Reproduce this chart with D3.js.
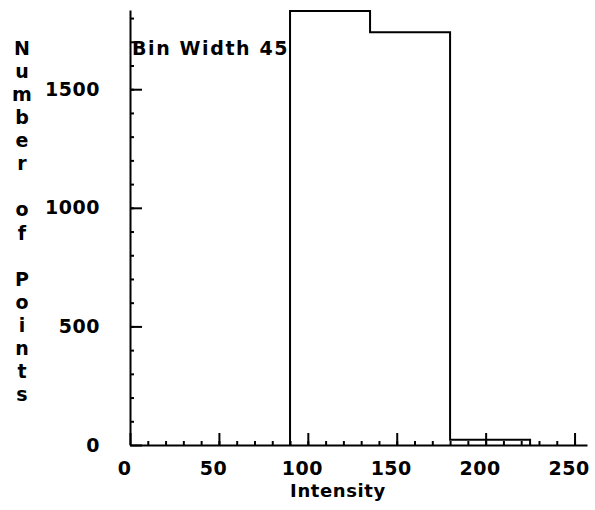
<!DOCTYPE html>
<html>
<head>
<meta charset="utf-8">
<script src="https://cdn.jsdelivr.net/npm/d3@7"></script>
<style>
  body { margin: 0; background: #fff; }
  svg text { font-family: "DejaVu Sans", sans-serif; font-weight: bold; fill: #000; }
</style>
</head>
<body>
<div id="chart"></div>
<script>
// histogram, bin width 45
var binEdges = [90, 135, 180, 225];
var binCounts = [1830, 1740, 22];
var xTicks = [0, 50, 100, 150, 200, 250];
var yTicks = [0, 500, 1000, 1500];
var xTitle = "Intensity";
var yTitle = "Number of Points";
var note = "Bin Width 45";

var width = 595, height = 510;
var margin = {top: 10, right: 8, bottom: 65, left: 130};

var svg = d3.select("#chart")
    .append("svg")
    .attr("width", width)
    .attr("height", height);

var x = d3.scaleLinear()
    .domain([0, 257])
    .range([margin.left, width - margin.right]);

var y = d3.scaleLinear()
    .domain([0, 1834])
    .range([height - margin.bottom, margin.top]);

var fontSize = 19;

// minor ticks
svg.append("g")
    .attr("transform", "translate(0," + y(0) + ")")
    .call(d3.axisBottom(x).tickValues(d3.range(10, 251, 10)).tickSize(-4).tickFormat(""))
    .call(function(g) { g.select(".domain").remove(); });
svg.append("g")
    .attr("transform", "translate(" + x(0) + ",0)")
    .call(d3.axisLeft(y).tickValues(d3.range(100, 1801, 100)).tickSize(-4).tickFormat(""))
    .call(function(g) { g.select(".domain").remove(); });

// major axes
var xAxis = svg.append("g")
    .attr("transform", "translate(0," + y(0) + ")")
    .call(d3.axisBottom(x).tickValues(xTicks).tickSizeInner(-12).tickSizeOuter(0).tickPadding(17).tickFormat(d3.format("d")));
xAxis.selectAll("text").attr("dx", -6).attr("letter-spacing", 0.5);

var yAxis = svg.append("g")
    .attr("transform", "translate(" + x(0) + ",0)")
    .call(d3.axisLeft(y).tickValues(yTicks).tickSizeInner(-12).tickSizeOuter(0).tickPadding(30).tickFormat(d3.format("d")));
yAxis.selectAll("text").attr("letter-spacing", 0.5);

svg.selectAll(".tick line").attr("stroke", "#000").attr("stroke-width", 2);
svg.selectAll(".domain").attr("stroke", "#000").attr("stroke-width", 2);
svg.selectAll(".tick text")
    .attr("font-size", fontSize)
    .style("font-family", "DejaVu Sans, sans-serif")
    .style("font-weight", "bold");

// histogram outline
var pts = [[binEdges[0], 0]];
binCounts.forEach(function(c, i) { pts.push([binEdges[i], c]); });
pts.push([binEdges[binEdges.length - 1], 0]);

var line = d3.line()
    .x(function(d) { return x(d[0]); })
    .y(function(d) { return y(d[1]); })
    .curve(d3.curveStepAfter);

svg.append("path")
    .datum(pts)
    .attr("d", line)
    .attr("fill", "none")
    .attr("stroke", "#000")
    .attr("stroke-width", 2);

// labels
svg.append("text")
    .attr("x", x(0) + 2)
    .attr("y", 55)
    .attr("font-size", fontSize)
    .attr("letter-spacing", 1.6)
    .text(note);

svg.append("text")
    .attr("x", 338)
    .attr("y", 497)
    .attr("text-anchor", "middle")
    .attr("font-size", 18)
    .attr("letter-spacing", 0.6)
    .text(xTitle);

var yt = svg.append("text")
    .attr("text-anchor", "middle")
    .attr("font-size", fontSize);
yt.selectAll("tspan")
    .data(yTitle.split(""))
    .enter().append("tspan")
    .attr("x", 22)
    .attr("y", function(d, i) { return 55 + i * 23.07; })
    .text(function(d) { return d; });
</script>
</body>
</html>
